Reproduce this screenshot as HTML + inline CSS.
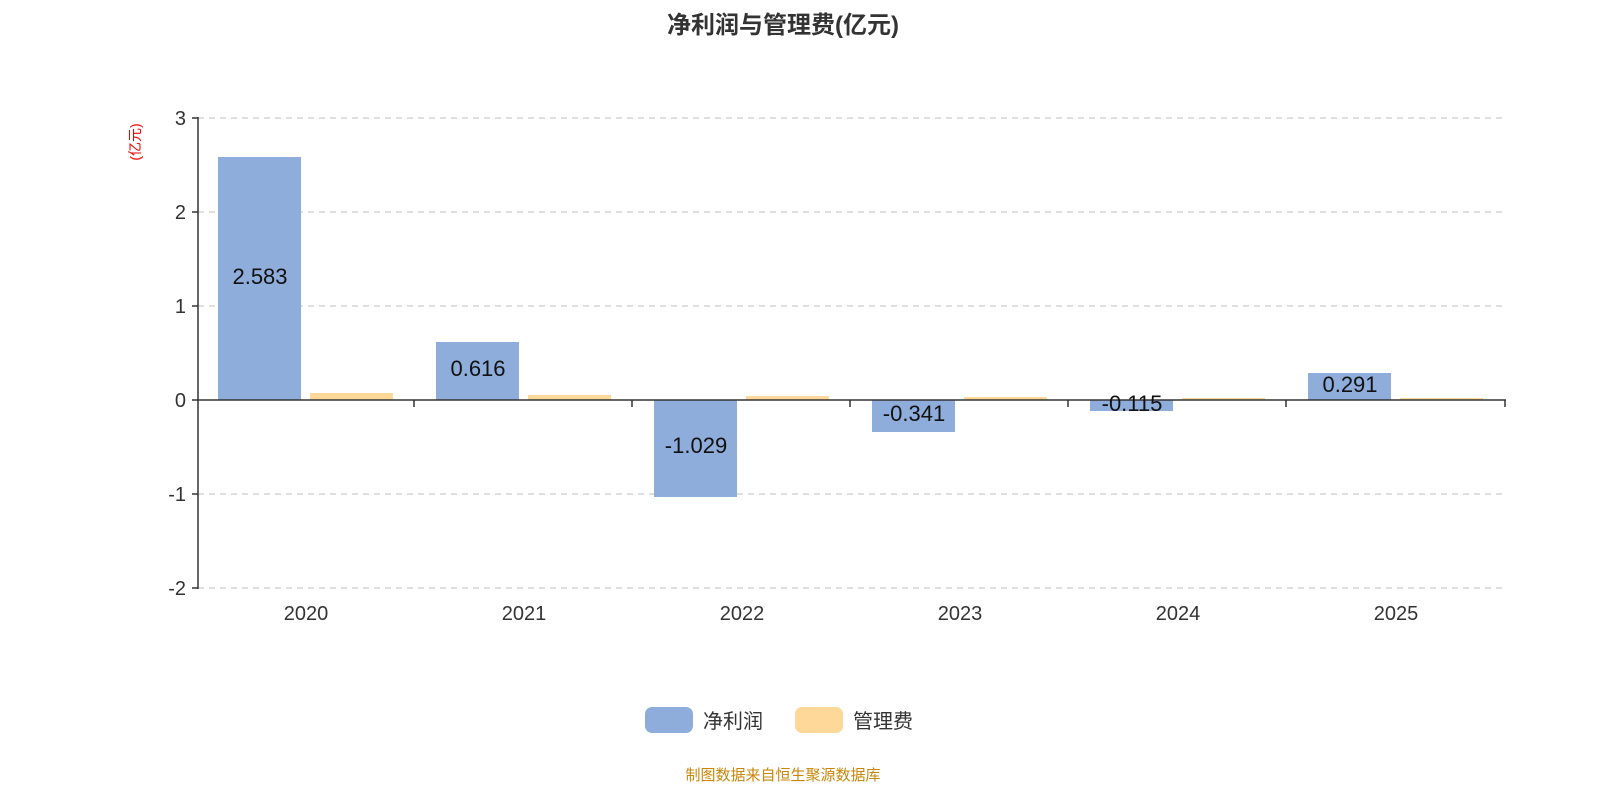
<!DOCTYPE html>
<html><head><meta charset="utf-8"><style>body{margin:0;background:#fff}svg{display:block}text{font-family:"Liberation Sans","Noto Sans CJK SC",sans-serif}</style></head>
<body>
<svg width="1600" height="800" xmlns="http://www.w3.org/2000/svg">
<text x="783" y="33" text-anchor="middle" font-size="24" font-weight="bold" fill="#333">净利润与管理费(亿元)</text>
<text transform="translate(140,142) rotate(-90)" text-anchor="middle" font-size="14" fill="#e00">(亿元)</text>
<g stroke="#ccc" stroke-dasharray="6,5" stroke-width="1.3">
<line x1="198" x2="1506" y1="118" y2="118"/><line x1="198" x2="1506" y1="212" y2="212"/><line x1="198" x2="1506" y1="306" y2="306"/><line x1="198" x2="1506" y1="494" y2="494"/><line x1="198" x2="1506" y1="588" y2="588"/>
</g>
<g fill="#8eaddb">
<rect x="218" y="157" width="83" height="243"/>
<rect x="436" y="342" width="83" height="58"/>
<rect x="654" y="400" width="83" height="97"/>
<rect x="872" y="400" width="83" height="32"/>
<rect x="1090" y="400" width="83" height="11"/>
<rect x="1308" y="373" width="83" height="27"/>
</g>
<g fill="#fed898">
<rect x="310" y="393" width="83" height="7"/>
<rect x="528" y="395" width="83" height="5"/>
<rect x="746" y="396" width="83" height="4"/>
<rect x="964" y="397" width="83" height="3"/>
<rect x="1182" y="398" width="83" height="2"/>
<rect x="1400" y="398" width="83" height="2"/>
</g>
<g stroke="#333" stroke-width="1.5">
<line x1="198" y1="117" x2="198" y2="589"/>
<line x1="198" y1="400" x2="1506" y2="400"/>
<line x1="192" y1="118" x2="198" y2="118"/><line x1="192" y1="212" x2="198" y2="212"/><line x1="192" y1="306" x2="198" y2="306"/><line x1="192" y1="400" x2="198" y2="400"/><line x1="192" y1="494" x2="198" y2="494"/><line x1="192" y1="588" x2="198" y2="588"/>
<line x1="414" y1="400" x2="414" y2="407"/><line x1="632" y1="400" x2="632" y2="407"/><line x1="850" y1="400" x2="850" y2="407"/><line x1="1068" y1="400" x2="1068" y2="407"/><line x1="1286" y1="400" x2="1286" y2="407"/><line x1="1505" y1="400" x2="1505" y2="407"/>
</g>
<g font-size="20" fill="#333" text-anchor="end">
<text x="186" y="125">3</text><text x="186" y="219">2</text><text x="186" y="313">1</text><text x="186" y="407">0</text><text x="186" y="501">-1</text><text x="186" y="595">-2</text>
</g>
<g font-size="20" fill="#333" text-anchor="middle">
<text x="306" y="620">2020</text><text x="524" y="620">2021</text><text x="742" y="620">2022</text><text x="960" y="620">2023</text><text x="1178" y="620">2024</text><text x="1396" y="620">2025</text>
</g>
<g font-size="22" fill="#111" text-anchor="middle">
<text x="260" y="284">2.583</text><text x="478" y="376">0.616</text><text x="696" y="453">-1.029</text><text x="914" y="421">-0.341</text><text x="1132" y="411">-0.115</text><text x="1350" y="392">0.291</text>
</g>
<rect x="645" y="707" width="48" height="26" rx="7" fill="#8eaddb"/>
<text x="703" y="728" font-size="20" fill="#333">净利润</text>
<rect x="795" y="707" width="48" height="26" rx="7" fill="#fed898"/>
<text x="853" y="728" font-size="20" fill="#333">管理费</text>
<text x="783" y="780" text-anchor="middle" font-size="15" fill="#c8860a">制图数据来自恒生聚源数据库</text>
</svg>
</body></html>
